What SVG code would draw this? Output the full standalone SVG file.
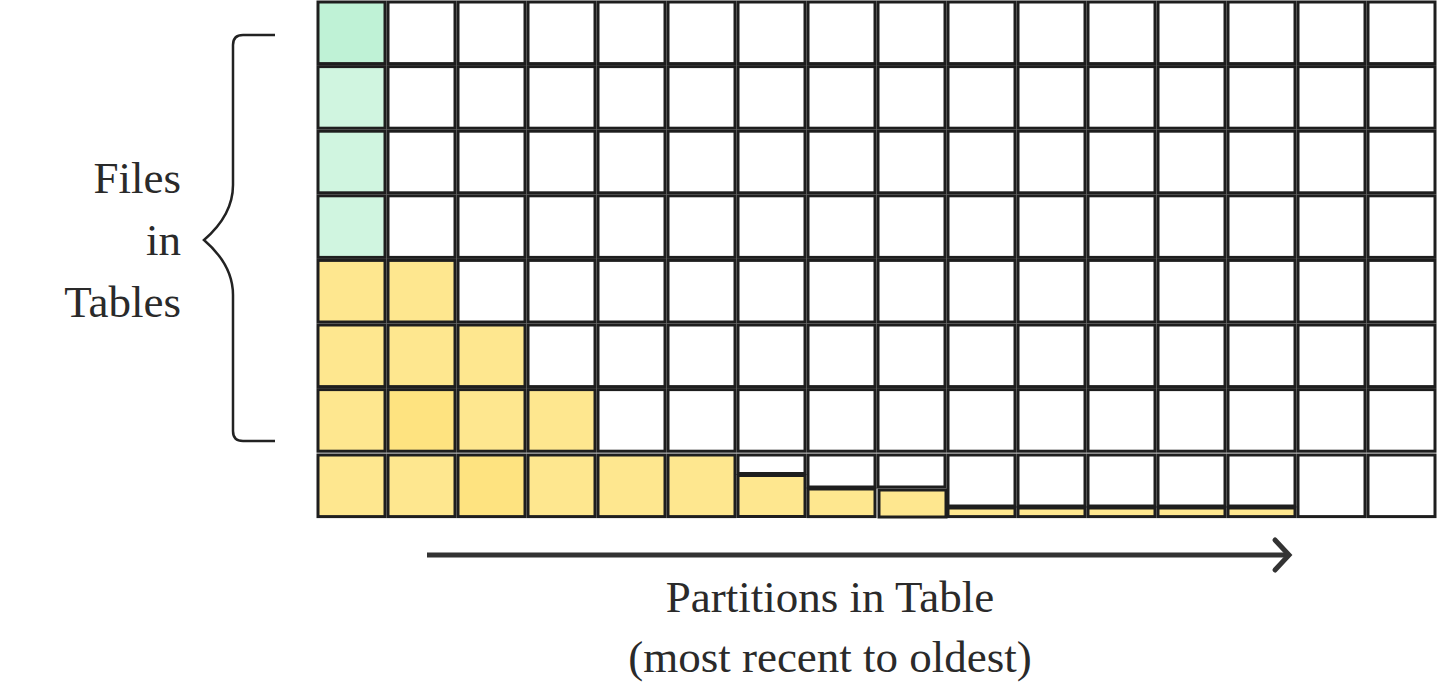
<svg xmlns="http://www.w3.org/2000/svg" width="1438" height="695" viewBox="0 0 1438 695">
<style>
.c{fill:#ffffff;stroke:#1e1e1e;stroke-width:3}
.g0{fill:#bff2d6;stroke:#1e1e1e;stroke-width:3}
.g{fill:#d0f5e0;stroke:#1e1e1e;stroke-width:3}
.y{fill:#fee78f;stroke:#1e1e1e;stroke-width:3}
.yd{fill:#fee380;stroke:#1e1e1e;stroke-width:3}
.t{font-family:"Liberation Serif",serif;font-size:45px;fill:#2a2a2a}
</style>
<g id="grid">
<g id="row0">
<rect class="g0" x="318" y="2" width="67" height="61.6"/>
<rect class="c" x="388" y="2" width="67" height="61.6"/><rect class="c" x="458" y="2" width="67" height="61.6"/><rect class="c" x="528" y="2" width="67" height="61.6"/><rect class="c" x="598" y="2" width="67" height="61.6"/><rect class="c" x="668" y="2" width="67" height="61.6"/><rect class="c" x="738" y="2" width="67" height="61.6"/><rect class="c" x="808" y="2" width="67" height="61.6"/><rect class="c" x="878" y="2" width="67" height="61.6"/><rect class="c" x="948" y="2" width="67" height="61.6"/><rect class="c" x="1018" y="2" width="67" height="61.6"/><rect class="c" x="1088" y="2" width="67" height="61.6"/><rect class="c" x="1158" y="2" width="67" height="61.6"/><rect class="c" x="1228" y="2" width="67" height="61.6"/><rect class="c" x="1298" y="2" width="67" height="61.6"/><rect class="c" x="1368" y="2" width="67" height="61.6"/>
</g>
<g id="row1">
<rect class="g" x="318" y="66.6" width="67" height="61.6"/>
<rect class="c" x="388" y="66.6" width="67" height="61.6"/><rect class="c" x="458" y="66.6" width="67" height="61.6"/><rect class="c" x="528" y="66.6" width="67" height="61.6"/><rect class="c" x="598" y="66.6" width="67" height="61.6"/><rect class="c" x="668" y="66.6" width="67" height="61.6"/><rect class="c" x="738" y="66.6" width="67" height="61.6"/><rect class="c" x="808" y="66.6" width="67" height="61.6"/><rect class="c" x="878" y="66.6" width="67" height="61.6"/><rect class="c" x="948" y="66.6" width="67" height="61.6"/><rect class="c" x="1018" y="66.6" width="67" height="61.6"/><rect class="c" x="1088" y="66.6" width="67" height="61.6"/><rect class="c" x="1158" y="66.6" width="67" height="61.6"/><rect class="c" x="1228" y="66.6" width="67" height="61.6"/><rect class="c" x="1298" y="66.6" width="67" height="61.6"/><rect class="c" x="1368" y="66.6" width="67" height="61.6"/>
</g>
<g id="row2">
<rect class="g" x="318" y="131.2" width="67" height="61.6"/>
<rect class="c" x="388" y="131.2" width="67" height="61.6"/><rect class="c" x="458" y="131.2" width="67" height="61.6"/><rect class="c" x="528" y="131.2" width="67" height="61.6"/><rect class="c" x="598" y="131.2" width="67" height="61.6"/><rect class="c" x="668" y="131.2" width="67" height="61.6"/><rect class="c" x="738" y="131.2" width="67" height="61.6"/><rect class="c" x="808" y="131.2" width="67" height="61.6"/><rect class="c" x="878" y="131.2" width="67" height="61.6"/><rect class="c" x="948" y="131.2" width="67" height="61.6"/><rect class="c" x="1018" y="131.2" width="67" height="61.6"/><rect class="c" x="1088" y="131.2" width="67" height="61.6"/><rect class="c" x="1158" y="131.2" width="67" height="61.6"/><rect class="c" x="1228" y="131.2" width="67" height="61.6"/><rect class="c" x="1298" y="131.2" width="67" height="61.6"/><rect class="c" x="1368" y="131.2" width="67" height="61.6"/>
</g>
<g id="row3">
<rect class="g" x="318" y="195.8" width="67" height="61.6"/>
<rect class="c" x="388" y="195.8" width="67" height="61.6"/><rect class="c" x="458" y="195.8" width="67" height="61.6"/><rect class="c" x="528" y="195.8" width="67" height="61.6"/><rect class="c" x="598" y="195.8" width="67" height="61.6"/><rect class="c" x="668" y="195.8" width="67" height="61.6"/><rect class="c" x="738" y="195.8" width="67" height="61.6"/><rect class="c" x="808" y="195.8" width="67" height="61.6"/><rect class="c" x="878" y="195.8" width="67" height="61.6"/><rect class="c" x="948" y="195.8" width="67" height="61.6"/><rect class="c" x="1018" y="195.8" width="67" height="61.6"/><rect class="c" x="1088" y="195.8" width="67" height="61.6"/><rect class="c" x="1158" y="195.8" width="67" height="61.6"/><rect class="c" x="1228" y="195.8" width="67" height="61.6"/><rect class="c" x="1298" y="195.8" width="67" height="61.6"/><rect class="c" x="1368" y="195.8" width="67" height="61.6"/>
</g>
<g id="row4">
<rect class="y" x="318" y="260.4" width="67" height="61.6"/><rect class="y" x="388" y="260.4" width="67" height="61.6"/>
<rect class="c" x="458" y="260.4" width="67" height="61.6"/><rect class="c" x="528" y="260.4" width="67" height="61.6"/><rect class="c" x="598" y="260.4" width="67" height="61.6"/><rect class="c" x="668" y="260.4" width="67" height="61.6"/><rect class="c" x="738" y="260.4" width="67" height="61.6"/><rect class="c" x="808" y="260.4" width="67" height="61.6"/><rect class="c" x="878" y="260.4" width="67" height="61.6"/><rect class="c" x="948" y="260.4" width="67" height="61.6"/><rect class="c" x="1018" y="260.4" width="67" height="61.6"/><rect class="c" x="1088" y="260.4" width="67" height="61.6"/><rect class="c" x="1158" y="260.4" width="67" height="61.6"/><rect class="c" x="1228" y="260.4" width="67" height="61.6"/><rect class="c" x="1298" y="260.4" width="67" height="61.6"/><rect class="c" x="1368" y="260.4" width="67" height="61.6"/>
</g>
<g id="row5">
<rect class="y" x="318" y="325" width="67" height="61.6"/><rect class="y" x="388" y="325" width="67" height="61.6"/><rect class="y" x="458" y="325" width="67" height="61.6"/>
<rect class="c" x="528" y="325" width="67" height="61.6"/><rect class="c" x="598" y="325" width="67" height="61.6"/><rect class="c" x="668" y="325" width="67" height="61.6"/><rect class="c" x="738" y="325" width="67" height="61.6"/><rect class="c" x="808" y="325" width="67" height="61.6"/><rect class="c" x="878" y="325" width="67" height="61.6"/><rect class="c" x="948" y="325" width="67" height="61.6"/><rect class="c" x="1018" y="325" width="67" height="61.6"/><rect class="c" x="1088" y="325" width="67" height="61.6"/><rect class="c" x="1158" y="325" width="67" height="61.6"/><rect class="c" x="1228" y="325" width="67" height="61.6"/><rect class="c" x="1298" y="325" width="67" height="61.6"/><rect class="c" x="1368" y="325" width="67" height="61.6"/>
</g>
<g id="row6">
<rect class="y" x="318" y="389.6" width="67" height="61.6"/><rect class="yd" x="388" y="389.6" width="67" height="61.6"/><rect class="y" x="458" y="389.6" width="67" height="61.6"/><rect class="y" x="528" y="389.6" width="67" height="61.6"/>
<rect class="c" x="598" y="389.6" width="67" height="61.6"/><rect class="c" x="668" y="389.6" width="67" height="61.6"/><rect class="c" x="738" y="389.6" width="67" height="61.6"/><rect class="c" x="808" y="389.6" width="67" height="61.6"/><rect class="c" x="878" y="389.6" width="67" height="61.6"/><rect class="c" x="948" y="389.6" width="67" height="61.6"/><rect class="c" x="1018" y="389.6" width="67" height="61.6"/><rect class="c" x="1088" y="389.6" width="67" height="61.6"/><rect class="c" x="1158" y="389.6" width="67" height="61.6"/><rect class="c" x="1228" y="389.6" width="67" height="61.6"/><rect class="c" x="1298" y="389.6" width="67" height="61.6"/><rect class="c" x="1368" y="389.6" width="67" height="61.6"/>
</g>
<g id="row7">
<rect class="y" x="318" y="455" width="67" height="61.6"/><rect class="y" x="388" y="455" width="67" height="61.6"/><rect class="yd" x="458" y="455" width="67" height="61.6"/><rect class="y" x="528" y="455" width="67" height="61.6"/><rect class="y" x="598" y="455" width="67" height="61.6"/><rect class="y" x="668" y="455" width="67" height="61.6"/>
<rect class="c" x="738" y="455" width="67" height="18.5"/><rect class="y" x="738" y="475.5" width="67" height="41"/>
<rect class="c" x="808" y="455" width="67" height="32"/><rect class="y" x="808" y="489" width="67" height="27.6"/>
<rect class="c" x="878" y="455" width="67" height="32"/><rect class="y" x="879" y="490" width="67" height="27"/>
<rect class="c" x="948" y="455" width="67" height="51"/><rect class="y" x="948" y="508" width="67" height="8.6"/>
<rect class="c" x="1018" y="455" width="67" height="51"/><rect class="y" x="1018" y="508" width="67" height="8.6"/>
<rect class="c" x="1088" y="455" width="67" height="51"/><rect class="y" x="1088" y="508" width="67" height="8.6"/>
<rect class="c" x="1158" y="455" width="67" height="51"/><rect class="y" x="1158" y="508" width="67" height="8.6"/>
<rect class="c" x="1228" y="455" width="67" height="51"/><rect class="y" x="1228" y="508" width="67" height="8.6"/>
<rect class="c" x="1298" y="455" width="67" height="61.6"/><rect class="c" x="1368" y="455" width="67" height="61.6"/>
</g>
</g>
<g id="brace">
<path d="M275,35 H243 Q233,35 233,45 V185 Q233,215 204,240 Q233,265 233,295 V431 Q233,441 243,441 H275" fill="none" stroke="#222" stroke-width="2.5"/>
</g>
<g id="labels">
<text class="t" x="181" y="193" text-anchor="end">Files</text>
<text class="t" x="181" y="255" text-anchor="end">in</text>
<text class="t" x="181" y="317" text-anchor="end">Tables</text>
<text class="t" x="830" y="612" text-anchor="middle">Partitions in Table</text>
<text class="t" x="830" y="672" text-anchor="middle">(most recent to oldest)</text>
</g>
<g id="connectors">
<line x1="427" y1="555" x2="1288" y2="555" stroke="#333" stroke-width="5"/>
<polyline points="1275,540 1289,555 1275,570" fill="none" stroke="#333" stroke-width="5" stroke-linecap="round" stroke-linejoin="miter"/>
</g>
</svg>
